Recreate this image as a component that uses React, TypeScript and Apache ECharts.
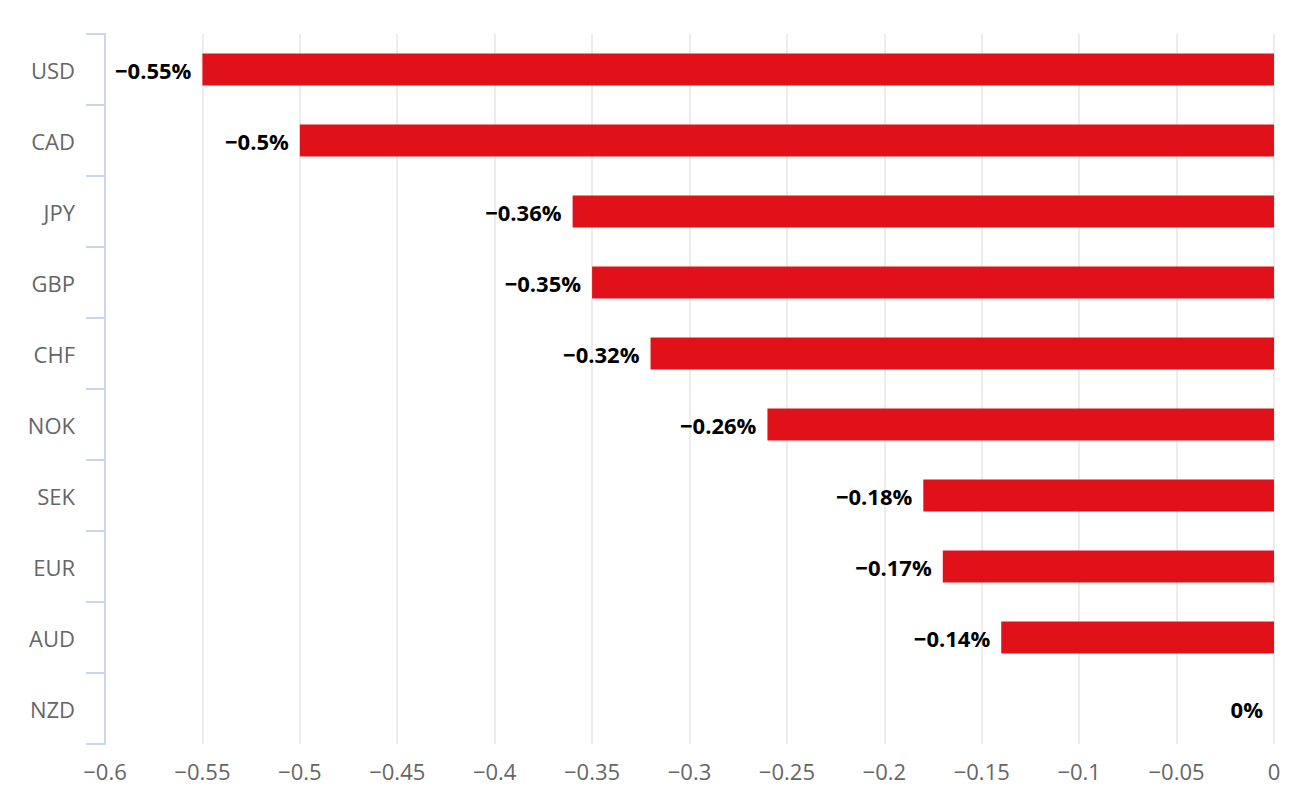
import React, { useEffect, useRef } from "react";
import * as echarts from "echarts";

const categories = ["USD", "CAD", "JPY", "GBP", "CHF", "NOK", "SEK", "EUR", "AUD", "NZD"];
const values = [-0.55, -0.5, -0.36, -0.35, -0.32, -0.26, -0.18, -0.17, -0.14, 0];

const fmt = (v: number) => (v < 0 ? "\u2212" : "") + String(Math.abs(v));

export default function App() {
  const ref = useRef<HTMLDivElement>(null);
  useEffect(() => {
    const chart = echarts.init(ref.current!, null, { renderer: "svg" });
    chart.setOption({
      animation: false,
      textStyle: { fontFamily: "Open Sans" },
      grid: { left: 97, right: 22, top: 26, bottom: 50, containLabel: false },
      xAxis: {
        type: "value",
        min: -0.6,
        max: 0,
        interval: 0.05,
        axisLine: { show: false },
        axisTick: { show: false },
        splitLine: { show: true, lineStyle: { color: "#e6e6e6", width: 1.5 } },
        axisLabel: {
          color: "#666666",
          fontSize: 22,
          margin: 16,
          fontFamily: "Open Sans",
          formatter: (v: number) => fmt(Math.round(v * 100) / 100),
        },
      },
      yAxis: {
        type: "category",
        data: categories,
        inverse: true,
        position: "left",
        axisLine: { show: true, onZero: false, lineStyle: { color: "#ccd6eb", width: 2 } },
        axisTick: { show: true, length: 19, lineStyle: { color: "#ccd6eb", width: 2 } },
        splitLine: { show: false },
        axisLabel: { color: "#666666", fontSize: 22, margin: 30, fontFamily: "Open Sans" },
      },
      series: [
        {
          type: "bar",
          data: values,
          barWidth: "45%",
          itemStyle: { color: "#e1111a" },
          label: {
            show: true,
            position: "left",
            distance: 11,
            color: "#000000",
            fontWeight: "bold",
            fontSize: 22,
            fontFamily: "Open Sans",
            formatter: (p: any) => fmt(p.value) + "%",
          },
        },
      ],
    });
    return () => chart.dispose();
  }, []);
  return <div ref={ref} style={{ width: 1288, height: 786 }} />;
}
